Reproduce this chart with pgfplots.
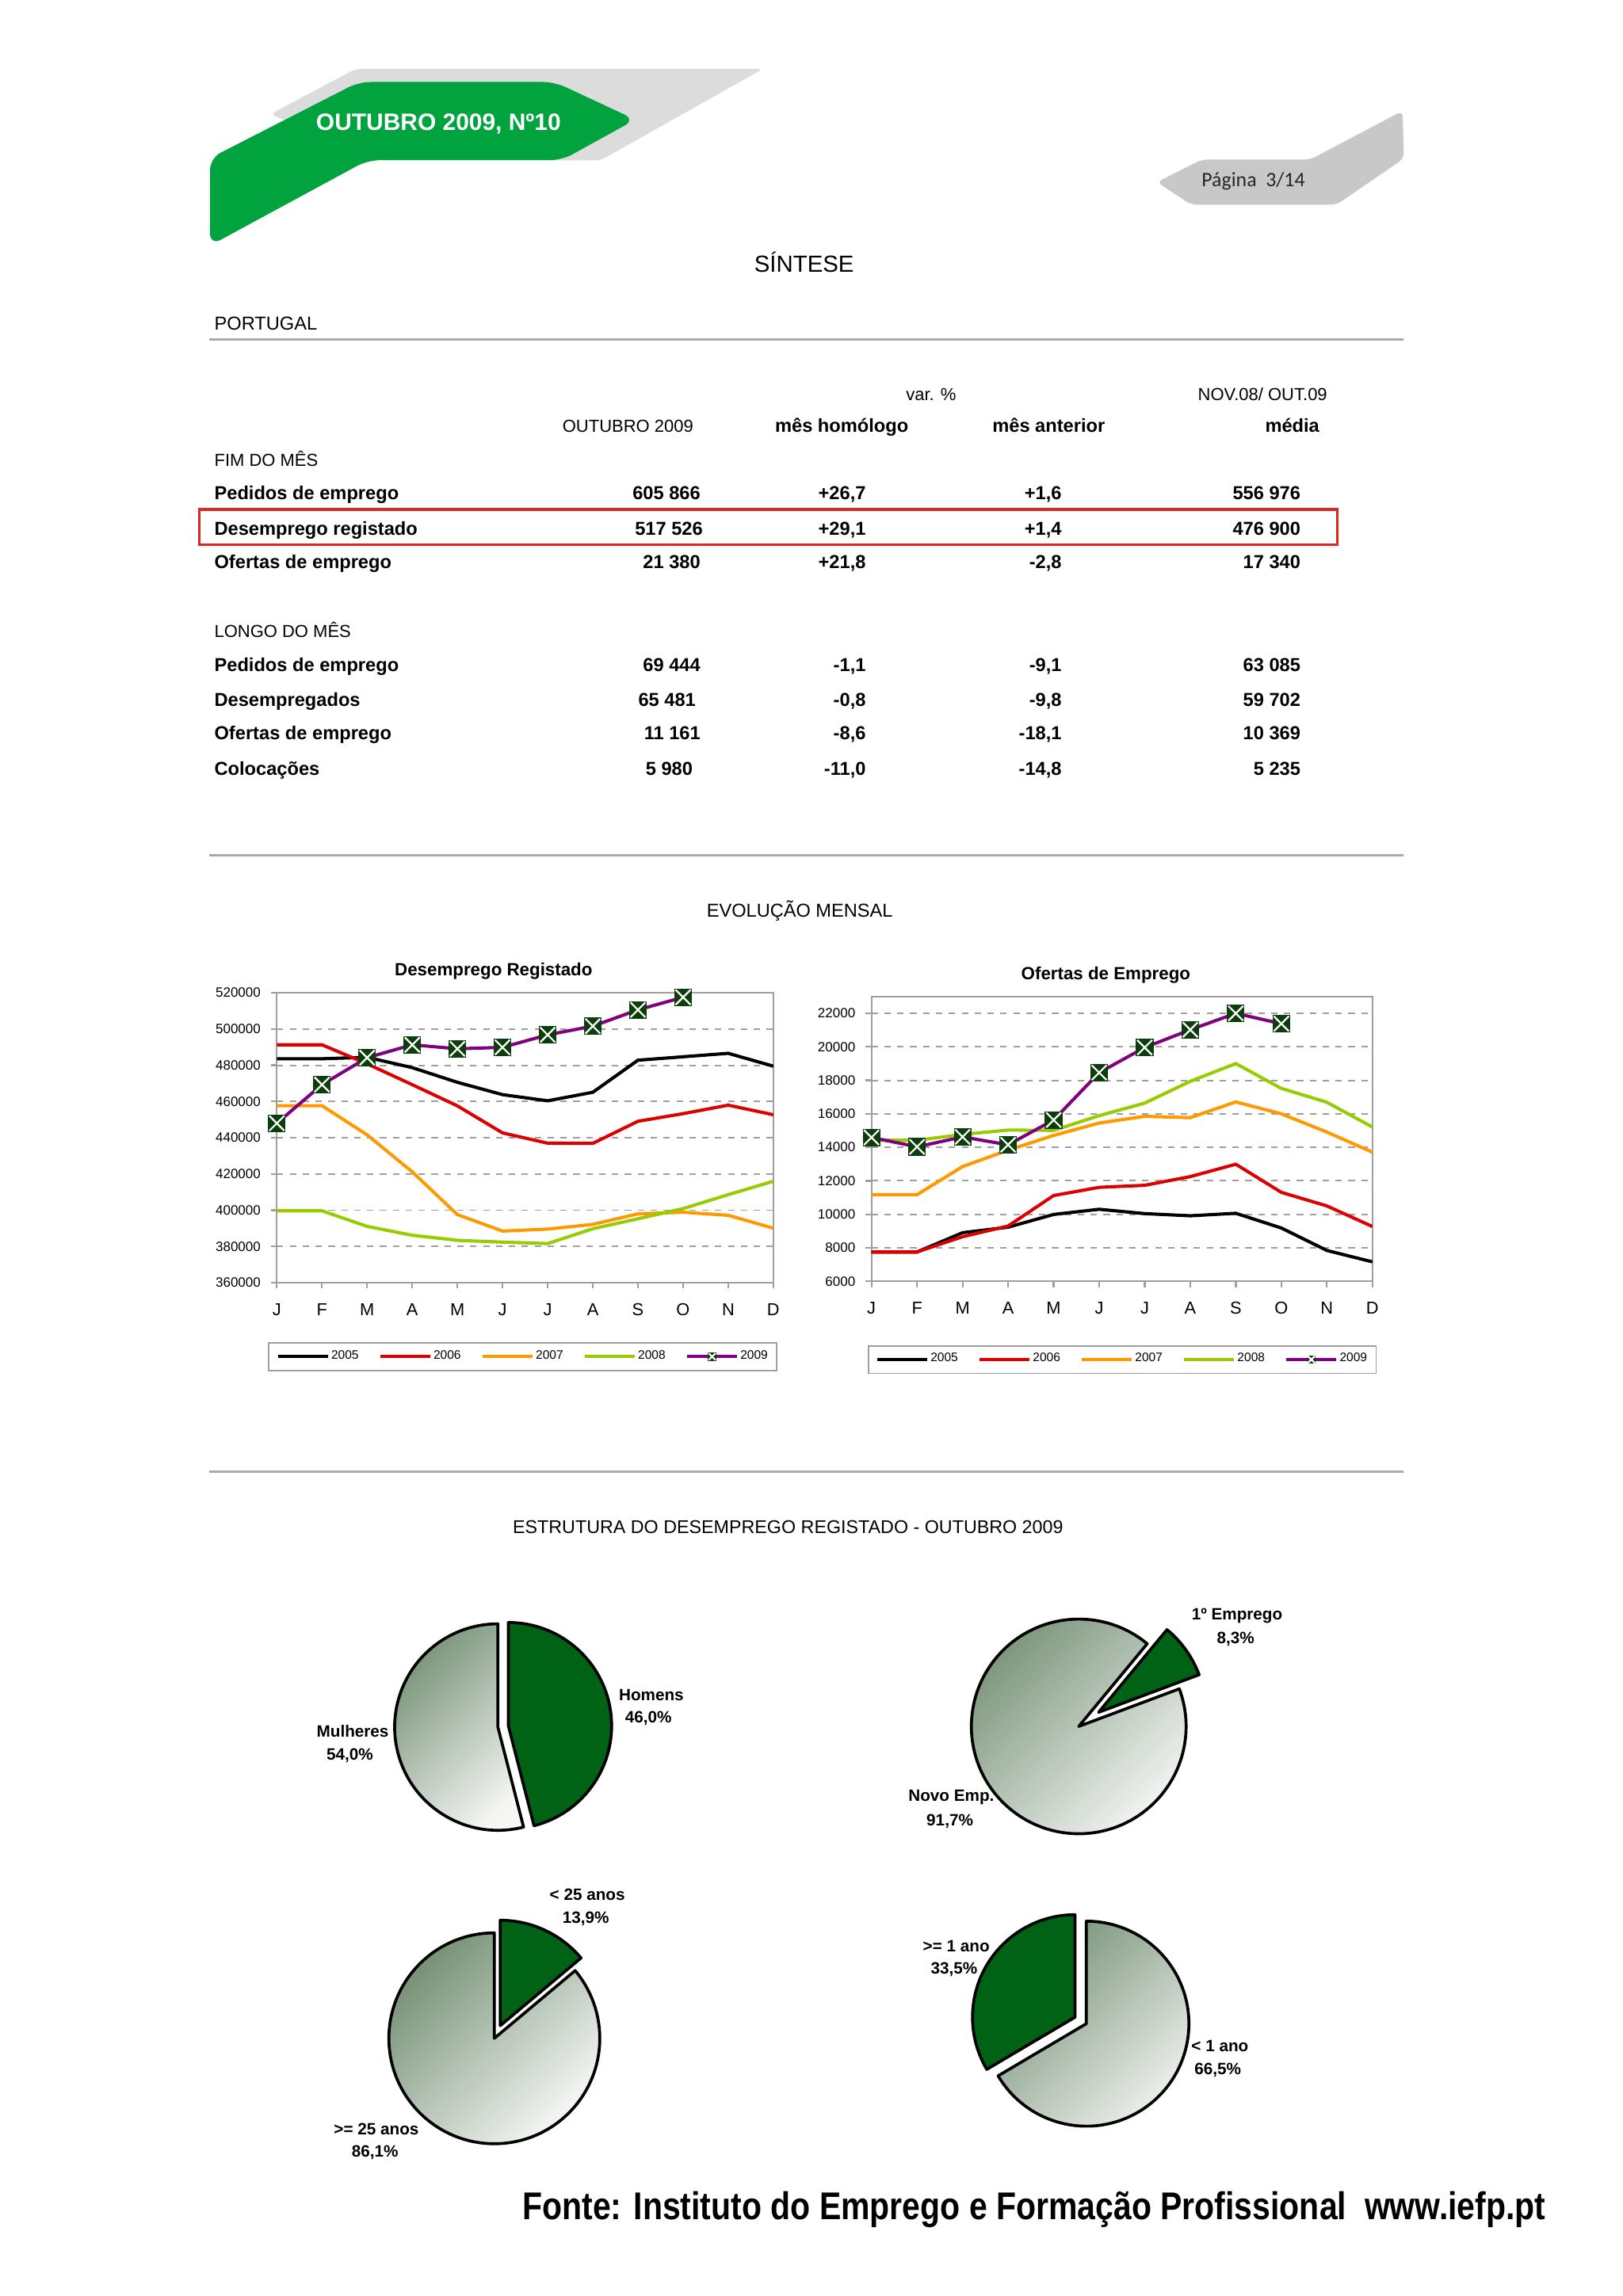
\documentclass[border=0pt]{standalone}
\usepackage{pgfplots}
\pgfplotsset{compat=1.18}
\usepackage{pgfplotstable}
\usepackage{fontspec}
\setmainfont{Liberation Sans}
\newfontfamily\narrowfont[FakeStretch=0.84]{Liberation Sans}
\newfontfamily\calfont{Carlito}

\definecolor{hgreen}{RGB}{0,163,62}
\definecolor{hgray}{RGB}{220,220,220}
\definecolor{tabgray}{RGB}{200,200,200}
\definecolor{c2005}{RGB}{0,0,0}
\definecolor{c2006}{RGB}{220,0,0}
\definecolor{c2007}{RGB}{255,153,0}
\definecolor{c2008}{RGB}{153,204,0}
\definecolor{c2009}{RGB}{128,0,128}
\definecolor{mkgreen}{RGB}{12,62,12}
\definecolor{piegreen}{RGB}{0,98,20}
\definecolor{piedark}{RGB}{118,145,118}
\definecolor{pielight}{RGB}{246,247,245}
\definecolor{boxred}{RGB}{220,40,30}
\definecolor{linegray}{RGB}{170,170,170}

\pgfdeclareplotmark{sqx}{%
  \pgfpathrectangle{\pgfqpoint{-\pgfplotmarksize}{-\pgfplotmarksize}}{\pgfqpoint{2\pgfplotmarksize}{2\pgfplotmarksize}}%
  \pgfsetfillcolor{mkgreen}\pgfusepathqfill
  \pgfsetstrokecolor{white}\pgfsetlinewidth{0.6pt}%
  \pgfpathmoveto{\pgfqpoint{-0.85\pgfplotmarksize}{-0.85\pgfplotmarksize}}%
  \pgfpathlineto{\pgfqpoint{0.85\pgfplotmarksize}{0.85\pgfplotmarksize}}%
  \pgfpathmoveto{\pgfqpoint{-0.85\pgfplotmarksize}{0.85\pgfplotmarksize}}%
  \pgfpathlineto{\pgfqpoint{0.85\pgfplotmarksize}{-0.85\pgfplotmarksize}}%
  \pgfusepathqstroke
}

\pgfplotstableread{
m y2005 y2006 y2007 y2008 y2009
0 483600 491300 457700 399700 448000
1 483600 491300 457700 399700 469300
2 484400 480800 441600 391100 484200
3 478700 469300 421200 386200 491300
4 470600 457600 397600 383400 489100
5 463800 442700 388500 382400 489900
6 460400 437000 389600 381600 496800
7 465100 436900 392200 389800 501600
8 482800 449100 398000 395300 510600
9 484700 453300 398900 400900 517526
10 486600 458000 397200 408600 nan
11 479500 452700 390100 416000 nan
}\desemp

\pgfplotstableread{
m y2005 y2006 y2007 y2008 y2009
0 7750 7750 11170 14420 14590
1 7750 7750 11170 14420 14030
2 8900 8660 12850 14770 14620
3 9230 9300 13830 15030 14150
4 9990 11120 14710 15010 15630
5 10300 11610 15450 15890 18460
6 10040 11730 15850 16640 19960
7 9910 12250 15770 17940 21020
8 10060 12990 16710 19000 22000
9 9180 11310 16000 17520 21380
10 7840 10500 14910 16690 nan
11 7160 9270 13710 15210 nan
}\ofertas

\newcommand\tb{\bfseries\fontsize{6.4}{7}\selectfont}
\newcommand\tr{\fontsize{5.95}{7}\selectfont}
\newcommand\pl{\bfseries\fontsize{5.6}{6}\selectfont}

% y, label, v1, x1, v2, v3, v4
\newcommand{\trow}[7]{%
  \node[anchor=mid west, inner sep=0pt, font=\tb] at (146,#1) {#2};
  \node[anchor=mid east, inner sep=0pt, font=\tb] at (#4,#1) {#3};
  \node[anchor=mid east, inner sep=0pt, font=\tb] at (591.5,#1) {#5};
  \node[anchor=mid east, inner sep=0pt, font=\tb] at (725.2,#1) {#6};
  \node[anchor=mid east, inner sep=0pt, font=\tb] at (888.3,#1) {#7};
}

% light slice: dx, dy, start, end, radius
\newcommand{\lightslice}[5]{%
  \shade[top color=piedark, bottom color=pielight, shading angle=45] (axis cs:#1,#2) -- ++(#3:#5) arc[start angle=#3, end angle=#4, radius=#5] -- cycle;
  \draw[line width=1pt, line join=round] (axis cs:#1,#2) -- ++(#3:#5) arc[start angle=#3, end angle=#4, radius=#5] -- cycle;
}
\newcommand{\greenslice}[5]{%
  \filldraw[fill=piegreen, draw=black, line width=1pt, line join=round] (axis cs:#1,#2) -- ++(#3:#5) arc[start angle=#3, end angle=#4, radius=#5] -- cycle;
}

\pgfplotsset{
  evol/.style={
    scale only axis, anchor=south west,
    xmin=0, xmax=11, xtick={0,...,11}, xticklabels={J,F,M,A,M,J,J,A,S,O,N,D},
    axis line style={draw=gray!75, line width=0.6pt},
    tick style={draw=gray!75, line width=0.6pt},
    tick align=outside, major tick length=2pt,
    tick pos=left,
    ymajorgrids, major grid style={draw=gray!75, line width=0.5pt, dash pattern=on 2.2pt off 2.2pt},
    yticklabel style={font=\fontsize{4.6}{5}\selectfont},
    xticklabel style={font=\fontsize{5.9}{6}\selectfont, yshift=-1.6pt},
    /pgf/number format/assume math mode=true,
    yticklabel style={/pgf/number format/fixed, /pgf/number format/1000 sep={}},
    scaled y ticks=false,
    legend columns=5,
    legend style={font=\fontsize{4.2}{5}\selectfont, draw=gray!75, line width=0.5pt, anchor=center,
      inner xsep=2.5pt, inner ysep=1.5pt, nodes={inner xsep=0.6pt, inner ysep=1pt},
      /tikz/every even column/.append style={column sep=6.2pt}},
    every axis plot/.append style={line width=1.1pt},
  },
  pieax/.style={anchor=center, hide axis, scale only axis, width=100pt, height=100pt,
    xmin=-100, xmax=100, ymin=-100, ymax=100, clip=false},
}

\begin{document}
\begin{tikzpicture}[x=0.5pt,y=-0.5pt]
\path[fill=white] (0,0) rectangle (1108,1568);

% ---------- header ----------
\fill[hgray, rounded corners=2pt] (243,47) -- (521,47) -- (410,109.5) -- (260,109.5) -- (184.6,78) -- cycle;
\fill[hgreen, rounded corners=4pt] (143.4,167.7) -- (143.4,108) -- (245,56) -- (378.7,56) -- (433.8,81.7) -- (383.6,109.4) -- (251,109.4) -- cycle;
\node[text=white, font=\bfseries\fontsize{8.1}{9}\selectfont] at (299.4,84.6) {OUTUBRO 2009, Nº10};

\fill[tabgray, rounded corners=2pt] (957.6,75.7) -- (958.5,108.2) -- (912.5,139.8) -- (813.3,139.8) -- (789.8,124.4) -- (820.5,109) -- (894.5,109) -- cycle;
\node[text=black!85, font=\calfont\fontsize{7}{8}\selectfont] at (855.7,124) {Página~~3/14};

\node[font=\fontsize{7.95}{9}\selectfont] at (549,179) {SÍNTESE};
\node[anchor=mid west, inner sep=0pt, font=\fontsize{6.4}{7}\selectfont] at (146,220) {PORTUGAL};
\draw[linegray, line width=0.7pt] (143,232) -- (958,232);

% ---------- table ----------
\node[anchor=mid, inner sep=0pt, font=\tr] at (635.7,268) {var. \%};
\node[anchor=mid east, inner sep=0pt, font=\tr] at (906.5,268) {NOV.08/ OUT.09};
\node[anchor=mid, inner sep=0pt, font=\tr] at (428.7,290) {OUTUBRO 2009};
\node[anchor=mid, inner sep=0pt, font=\tb] at (574.7,290) {mês homólogo};
\node[anchor=mid, inner sep=0pt, font=\tb] at (716,290) {mês anterior};
\node[anchor=mid east, inner sep=0pt, font=\tb] at (901.2,290) {média};
\node[anchor=mid west, inner sep=0pt, font=\tr] at (146,313) {FIM DO MÊS};
\trow{336}{Pedidos de emprego}{605 866}{478.6}{+26,7}{+1,6}{556 976}
\trow{360}{Desemprego registado}{517 526}{480.2}{+29,1}{+1,4}{476 900}
\trow{383}{Ofertas de emprego}{21 380}{478.6}{+21,8}{-2,8}{17 340}
\draw[boxred, line width=1pt] (136,348) rectangle (913,372);
\node[anchor=mid west, inner sep=0pt, font=\tr] at (146,430) {LONGO DO MÊS};
\trow{453}{Pedidos de emprego}{69 444}{478.6}{-1,1}{-9,1}{63 085}
\trow{477}{Desempregados}{65 481}{475.4}{-0,8}{-9,8}{59 702}
\trow{500}{Ofertas de emprego}{11 161}{478.6}{-8,6}{-18,1}{10 369}
\trow{524}{Colocações}{5 980}{473.3}{-11,0}{-14,8}{5 235}

\draw[linegray, line width=0.7pt] (143,584) -- (958,584);
\node[font=\fontsize{6.38}{7}\selectfont] at (546,622) {EVOLUÇÃO MENSAL};

% ---------- line charts ----------
\node[font=\bfseries\fontsize{6.04}{7}\selectfont] at (337,663) {Desemprego Registado};
\node[font=\bfseries\fontsize{6.04}{7}\selectfont] at (755,666) {Ofertas de Emprego};

\begin{axis}[evol, at={(94.5pt,-438pt)}, width=169.5pt, height=99pt,
  ymin=360000, ymax=520000, ytick={360000,380000,...,520000},
  legend style={at={(0.4956,-0.255)}}]
\addplot[c2005] table[x=m,y=y2005]{\desemp};
\addlegendentry{2005}
\addplot[c2006] table[x=m,y=y2006]{\desemp};
\addlegendentry{2006}
\addplot[c2007] table[x=m,y=y2007]{\desemp};
\addlegendentry{2007}
\addplot[c2008] table[x=m,y=y2008]{\desemp};
\addlegendentry{2008}
\addplot[c2009, mark=sqx, mark size=3pt, legend image post style={mark size=1.4pt}] table[x=m,y=y2009]{\desemp};
\addlegendentry{2009}
\end{axis}

\begin{axis}[evol, at={(297.5pt,-437.5pt)}, width=171pt, height=97.2pt,
  ymin=6000, ymax=23000, ytick={6000,8000,...,22000},
  legend style={at={(0.5006,-0.275)}}]
\addplot[c2005] table[x=m,y=y2005]{\ofertas};
\addlegendentry{2005}
\addplot[c2006] table[x=m,y=y2006]{\ofertas};
\addlegendentry{2006}
\addplot[c2007] table[x=m,y=y2007]{\ofertas};
\addlegendentry{2007}
\addplot[c2008] table[x=m,y=y2008]{\ofertas};
\addlegendentry{2008}
\addplot[c2009, mark=sqx, mark size=3pt, legend image post style={mark size=1.4pt}] table[x=m,y=y2009]{\ofertas};
\addlegendentry{2009}
\end{axis}

\draw[linegray, line width=0.7pt] (143,1005) -- (958,1005);
\node[font=\fontsize{6.3}{7}\selectfont] at (538,1043) {ESTRUTURA DO DESEMPREGO REGISTADO - OUTUBRO 2009};

% ---------- pies ----------
% Pie 1: Homens 46,0 / Mulheres 54,0
\begin{axis}[pieax, at={(171.75pt,-589.5pt)}]
\greenslice{3.57}{0.45}{90}{90-3.6*46.0}{35.25pt}
\lightslice{-3.57}{-0.45}{90-3.6*46.0}{-270}{35.25pt}
\end{axis}
% Pie 2: 1o Emprego 8,3 / Novo Emp. 91,7
\begin{axis}[pieax, at={(368.25pt,-589.5pt)}]
\lightslice{0}{0}{20.5+3.6*8.3}{20.5+360}{36.65pt}
\greenslice{13.52}{9.63}{20.5}{20.5+3.6*8.3}{36.65pt}
\end{axis}
% Pie 3: < 25 anos 13,9 / >= 25 anos 86,1
\begin{axis}[pieax, at={(168.75pt,-696pt)}]
\lightslice{0}{0}{90}{450-3.6*13.9}{36pt}
\greenslice{4.01}{8.61}{90-3.6*13.9}{90}{36pt}
\end{axis}
% Pie 4: >= 1 ano 33,5 / < 1 ano 66,5
\begin{axis}[pieax, at={(370.85pt,-691pt)}]
\lightslice{0}{0}{90+3.6*33.5}{450}{35pt}
\greenslice{-7.73}{4.41}{90}{90+3.6*33.5}{35pt}
\end{axis}

\node[font=\pl] at (444.7,1157.5) {Homens};
\node[font=\pl] at (442.7,1173.7) {46,0\%};
\node[font=\pl] at (240.8,1182.5) {Mulheres};
\node[font=\pl] at (238.9,1198.7) {54,0\%};
\node[font=\pl] at (844.6,1103.3) {1º Emprego};
\node[font=\pl] at (843.6,1119.3) {8,3\%};
\node[font=\pl] at (649.5,1227.6) {Novo Emp.};
\node[font=\pl] at (648.5,1243.6) {91,7\%};
\node[font=\pl] at (401,1293.9) {< 25 anos};
\node[font=\pl] at (400,1310.2) {13,9\%};
\node[font=\pl] at (257,1454) {>= 25 anos};
\node[font=\pl] at (256,1470) {86,1\%};
\node[font=\pl] at (652.9,1329.1) {>= 1 ano};
\node[font=\pl] at (651.4,1344.9) {33,5\%};
\node[font=\pl] at (832.9,1397.1) {< 1 ano};
\node[font=\pl] at (831.5,1413.6) {66,5\%};

% ---------- source ----------
\node[font=\narrowfont\bfseries\fontsize{13.2}{15}\selectfont] at (706,1509) {Fonte: Instituto do Emprego e Formação Profissional\ \ www.iefp.pt};
\end{tikzpicture}
\end{document}
